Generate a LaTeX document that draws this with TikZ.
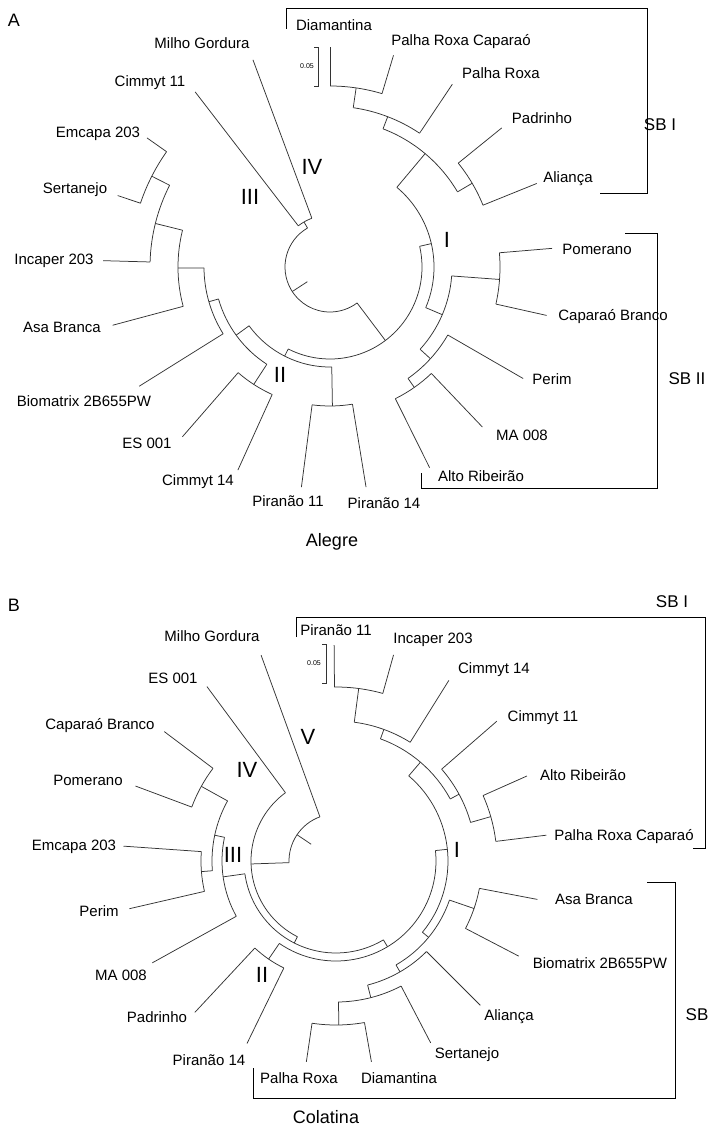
\documentclass[tikz,border=0pt]{standalone}
\usepackage{fontspec}
\setmainfont{Liberation Sans}
% clade: angle, parent radius, own radius, arc from, arc to
\newcommand{\clade}[5]{%
  \draw[branch] (#1:#2pt) -- (#1:#3pt);
  \draw[branch] (#4:#3pt) arc[start angle=#4, end angle=#5, radius=#3pt];}
% terminal branch: angle, from radius, to radius
\newcommand{\leafline}[3]{\draw[branch] (#1:#2pt) -- (#1:#3pt);}
\begin{document}
\begin{tikzpicture}[x=1pt,y=-1pt]
\tikzstyle{branch} = [draw=black!80, line width=0.75pt] % ветви дерева
\tikzstyle{taxon} = [font=\fontsize{15}{18}\selectfont, inner sep=1pt] % подписи сортов
\tikzstyle{group} = [font=\fontsize{22}{24}\selectfont, inner sep=0pt] % номера групп
\tikzstyle{subgr} = [font=\fontsize{17}{20}\selectfont, inner sep=0pt]
\tikzstyle{place} = [font=\fontsize{18}{20}\selectfont, inner sep=0pt]
\tikzstyle{bracket} = [draw=black, line width=1pt]
\tikzstyle{tiny} = [font=\fontsize{7}{8}\selectfont, inner sep=0pt]
\useasboundingbox (0,0) rectangle (711,1129);

%%% A: Alegre
\node[place] (panelA) at (14,20) {A};
\node[place] (alegre) at (332,542) {Alegre};
\node[taxon] (diamA) at (334,25) {Diamantina};
\node[taxon] (prcA) at (461,42) {Palha Roxa Caparaó};
\node[taxon] (prA) at (501,73) {Palha Roxa};
\node[taxon] (padA) at (542,118) {Padrinho};
\node[taxon] (aliA) at (568,179) {Aliança};
\node[taxon] (pomA) at (597,249) {Pomerano};
\node[taxon] (cbA) at (613,317) {Caparaó Branco};
\node[taxon] (perA) at (552,379) {Perim};
\node[taxon] (maA) at (522,435) {MA 008};
\node[taxon] (altoA) at (481,476) {Alto Ribeirão};
\node[taxon] (ptaA) at (384,503) {Piranão 14};
\node[taxon] (pelA) at (288,501) {Piranão 11};
\node[taxon] (cftA) at (198,482) {Cimmyt 14};
\node[taxon] (esA) at (147,443) {ES 001};
\node[taxon] (bioA) at (84,401) {Biomatrix 2B655PW};
\node[taxon] (asaA) at (62,327) {Asa Branca};
\node[taxon] (incA) at (54,261) {Incaper 203};
\node[taxon] (serA) at (75,190) {Sertanejo};
\node[taxon] (emcA) at (98,134) {Emcapa 203};
\node[taxon] (celA) at (150,83) {Cimmyt 11};
\node[taxon] (milA) at (202,43) {Milho Gordura};
\node[group] (gIA) at (447,240) {I};
\node[group] (gIIA) at (280,375) {II};
\node[group] (gIIIA) at (250,197) {III};
\node[group] (gIVA) at (312,167) {IV};
\node[subgr] (sbIA) at (660,125) {SB I};
\node[subgr] (sbIIA) at (687,379) {SB II};
\draw[bracket] (286,29) -- (286,9) -- (647,9) -- (647,193) -- (600,193);
\draw[bracket] (625,233) -- (657,233) -- (657,488) -- (421,488) -- (421,473);
\draw[branch] (314,47) -- (318,47) -- (318,86) -- (314,86); % шкала
\node[tiny] (scA) at (307,66) {0.05};

\begin{scope}[shift={(330,267)}]
\draw[branch] (213:27pt) -- (213:45pt); % корень
\draw[branch] (120:45pt) arc[start angle=120, end angle=307, radius=45pt];
\clade{120}{45}{52}{110.4}{127.6}
\leafline{110.4}{52}{221} % Milho Gordura
\leafline{127.6}{52}{221} % Cimmyt 11
\clade{-53}{45}{92}{13}{-117}
\clade{13}{92}{104}{-23}{50}
\clade{50}{104}{148}{30.5}{69}
\clade{69}{148}{161}{56.2}{81.7}
\clade{81.7}{161}{181}{73.3}{90}
\leafline{90}{181}{220}     % Diamantina
\leafline{73.3}{181}{221}   % Palha Roxa Caparao
\leafline{56.2}{161}{220}   % Palha Roxa
\clade{30.5}{148}{165}{22}{39}
\leafline{39}{165}{221}     % Padrinho
\leafline{22}{165}{223}     % Alianca
\clade{-23}{104}{122}{-42.4}{-4.2}
\clade{-4.2}{122}{170}{-12.6}{4.8}
\leafline{4.8}{170}{223}    % Pomerano
\leafline{-12.6}{170}{222}  % Caparao Branco
\clade{-42.4}{122}{136}{-55}{-30}
\leafline{-30}{136}{223}    % Perim
\clade{-55}{136}{147}{-63.6}{-46.4}
\leafline{-46.4}{147}{221}  % MA 008
\leafline{-63.6}{147}{224}  % Alto Ribeirao
\clade{243}{92}{100}{216}{271}
\clade{216}{100}{116}{196}{237}
\clade{196}{116}{126}{180.4}{212}
\clade{180.4}{126}{152}{166}{195}
\clade{166}{152}{180}{153}{178.4}
\clade{153}{180}{200}{144.8}{161.4}
\leafline{144.8}{200}{224}  % Emcapa 203
\leafline{161.4}{200}{224}  % Sertanejo
\leafline{178.4}{180}{227}  % Incaper 203
\leafline{195}{152}{225}    % Asa Branca
\leafline{212}{126}{225}    % Biomatrix
\clade{237}{116}{140}{229}{245.6}
\leafline{229}{140}{225}    % ES 001
\leafline{245.6}{140}{223}  % Cimmyt 14
\clade{271}{100}{139}{262.6}{279.3}
\leafline{262.6}{139}{222}  % Piranao 11
\leafline{279.3}{139}{223}  % Piranao 14
\end{scope}

%%% B: Colatina
\node[place] (panelB) at (14,605) {B};
\node[place] (colatina) at (326,1117) {Colatina};
\node[taxon] (pelC) at (336,630) {Piranão 11};
\node[taxon] (incC) at (433,640) {Incaper 203};
\node[taxon] (cftC) at (494,670) {Cimmyt 14};
\node[taxon] (celC) at (543,718) {Cimmyt 11};
\node[taxon] (altoC) at (583,775) {Alto Ribeirão};
\node[taxon] (prcC) at (624,837) {Palha Roxa Caparaó};
\node[taxon] (asaC) at (594,899) {Asa Branca};
\node[taxon] (bioC) at (600,963) {Biomatrix 2B655PW};
\node[taxon] (aliC) at (509,1017) {Aliança};
\node[taxon] (serC) at (467,1055) {Sertanejo};
\node[taxon] (diamC) at (399,1078) {Diamantina};
\node[taxon] (prC) at (299,1078) {Palha Roxa};
\node[taxon] (ptaC) at (209,1060) {Piranão 14};
\node[taxon] (padC) at (157,1017) {Padrinho};
\node[taxon] (maC) at (121,975) {MA 008};
\node[taxon] (perC) at (99,911) {Perim};
\node[taxon] (emcC) at (74,847) {Emcapa 203};
\node[taxon] (pomC) at (88,780) {Pomerano};
\node[taxon] (cbC) at (100,726) {Caparaó Branco};
\node[taxon] (esC) at (173,678) {ES 001};
\node[taxon] (milC) at (212,636) {Milho Gordura};
\node[group] (gIC) at (457,850) {I};
\node[group] (gIIC) at (262,975) {II};
\node[group] (gIIIC) at (233,855) {III};
\node[group] (gIVC) at (247,770) {IV};
\node[group] (gVC) at (308,737) {V};
\node[subgr] (sbIC) at (672,602) {SB I};
\node[subgr] (sbC) at (697,1015) {SB};
\draw[bracket] (296,637) -- (296,617) -- (705,617) -- (705,848) -- (693,848);
\draw[bracket] (647,882) -- (675,882) -- (675,1098) -- (253,1098) -- (253,1068);
\draw[branch] (322,644) -- (326,644) -- (326,683) -- (322,683); % шкала
\node[tiny] (scC) at (314,663) {0.05};

\begin{scope}[shift={(336,861)}]
\draw[branch] (146:30pt) -- (146:47pt); % корень
\draw[branch] (110:47pt) arc[start angle=110, end angle=182, radius=47pt];
\leafline{110}{47}{219}     % Milho Gordura
\clade{182}{47}{85}{126.5}{243}
\leafline{126.5}{85}{217}   % ES 001
\clade{243}{85}{92}{188}{301}
\clade{188}{92}{114}{168}{209}
\clade{168}{114}{124}{151}{184.5}
\clade{151}{124}{154}{143}{159.5}
\leafline{143}{154}{215}    % Caparao Branco
\leafline{159.5}{154}{214}  % Pomerano
\clade{184.5}{124}{135}{176}{193}
\leafline{176}{135}{213}    % Emcapa 203
\leafline{193}{135}{212}    % Perim
\leafline{209}{114}{210}    % MA 008
\clade{301}{92}{100}{235.5}{366}
\clade{235.5}{100}{119}{227}{244}
\leafline{227}{119}{207}    % Padrinho
\leafline{244}{119}{203}    % Piranao 14
\clade{6}{100}{112}{-39.5}{49.5}
\clade{49.5}{112}{130}{28.5}{70}
\clade{70}{130}{140}{58}{82.5}
\clade{82.5}{140}{174}{74.4}{90.5}
\leafline{90.5}{174}{216}   % Piranao 11
\leafline{74.4}{174}{214}   % Incaper 203
\leafline{58}{140}{213}     % Cimmyt 14
\clade{28.5}{130}{140}{16}{41}
\leafline{41}{140}{213}     % Cimmyt 11
\clade{16}{140}{161}{7}{24}
\leafline{24}{161}{209}     % Alto Ribeirao
\leafline{7}{161}{212}      % Palha Roxa Caparao
\clade{-39.5}{112}{120}{-60}{-19}
\clade{-19}{120}{146}{-27.5}{-10.8}
\leafline{-10.8}{146}{205}  % Asa Branca
\leafline{-27.5}{146}{206}  % Biomatrix
\clade{-60}{120}{128}{-75.7}{-45}
\clade{-75.7}{128}{141}{-89}{-62.5}
\clade{-89}{141}{164}{-98.4}{-80}
\leafline{-98.4}{164}{203}  % Palha Roxa
\leafline{-80}{164}{204}    % Diamantina
\leafline{-62.5}{141}{205}  % Sertanejo
\leafline{-45}{128}{204}    % Alianca
\end{scope}
\end{tikzpicture}
\end{document}
